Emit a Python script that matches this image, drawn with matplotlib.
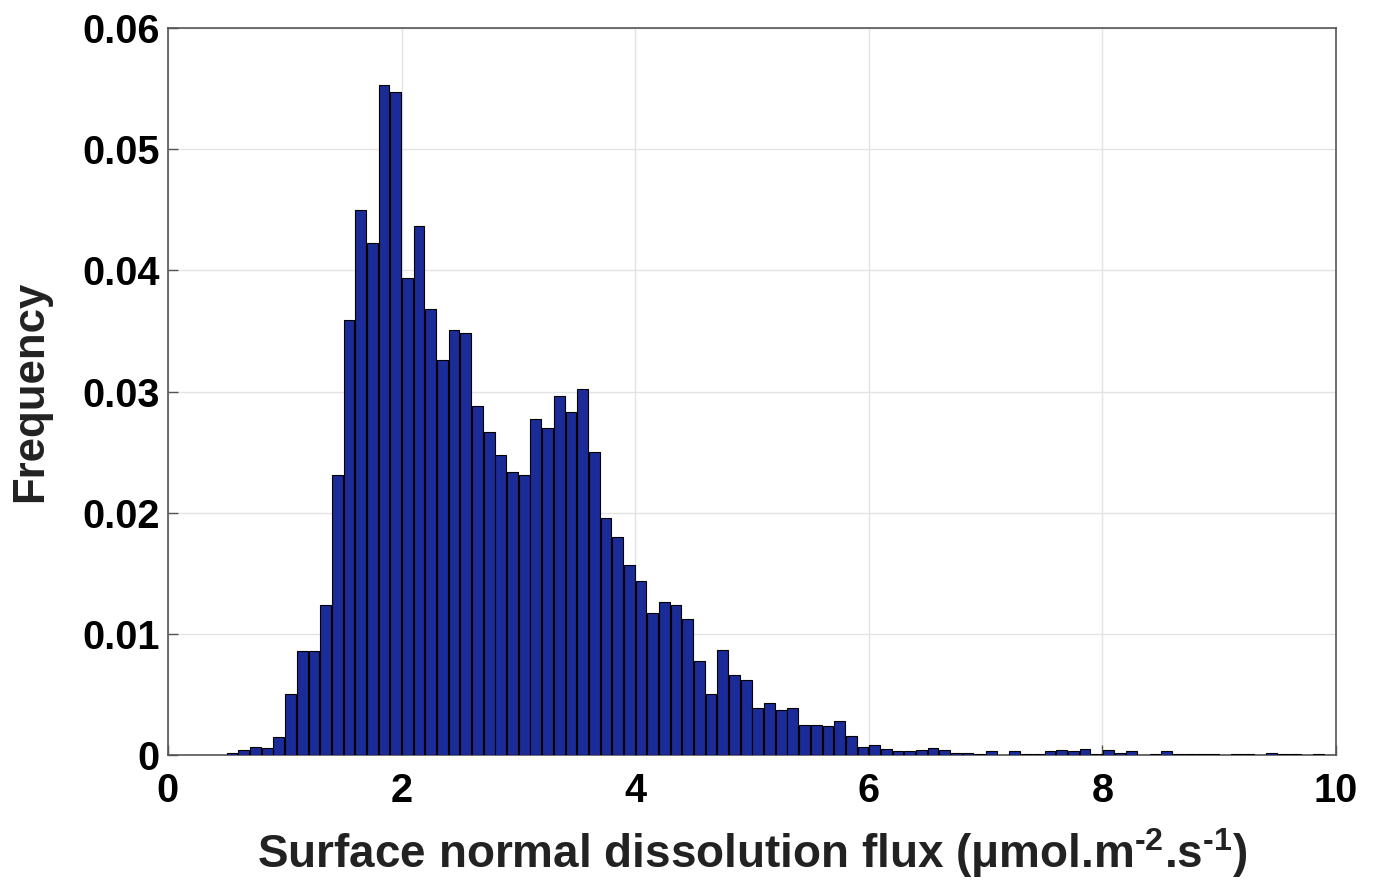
import numpy as np
import matplotlib
matplotlib.use("Agg")
import matplotlib.pyplot as plt

# bin centres (bin width 0.1) and frequencies
bin_width = 0.1
freq = [
    0.0002, 0.0004, 0.0007, 0.0006, 0.0015, 0.0050, 0.0086, 0.0086, 0.0124, 0.0231,
    0.0359, 0.0450, 0.0423, 0.0553, 0.0547, 0.0394, 0.0437, 0.0368, 0.0326, 0.0351,
    0.0348, 0.0288, 0.0267, 0.0248, 0.0234, 0.0231, 0.0277, 0.0270, 0.0296, 0.0283,
    0.0302, 0.0250, 0.0196, 0.0180, 0.0157, 0.0144, 0.0117, 0.0126, 0.0124, 0.0112,
    0.0078, 0.0050, 0.0087, 0.0066, 0.0062, 0.0039, 0.0043, 0.0037, 0.0039, 0.0025,
    0.0025, 0.0024, 0.0028, 0.0016, 0.0007, 0.0008, 0.0005, 0.0003, 0.0003, 0.0004,
    0.0006, 0.0004, 0.0002, 0.0002, 0.0001, 0.0003, 0.00003, 0.0003, 0.0001, 0.0001,
    0.0003, 0.0004, 0.0003, 0.0005, 0.0001, 0.0004, 0.0002, 0.0003, 0.0, 0.0001,
    0.0003, 0.00005, 0.00005, 0.0001, 0.00005, 0.0, 0.0001, 0.0001, 0.0, 0.0002,
    0.0001, 0.00005, 0.0, 0.00005, 0.0,
]
first_centre = 0.55
centres = first_centre + bin_width * np.arange(len(freq))

xticks = [0, 2, 4, 6, 8, 10]
yticks = [0, 0.01, 0.02, 0.03, 0.04, 0.05, 0.06]
ytick_labels = ["0", "0.01", "0.02", "0.03", "0.04", "0.05", "0.06"]

plt.rcParams["font.family"] = ["Liberation Sans", "DejaVu Sans"]
plt.rcParams["mathtext.fontset"] = "custom"
plt.rcParams["mathtext.rm"] = "Liberation Sans:bold"
plt.rcParams["mathtext.it"] = "Liberation Sans:bold"
plt.rcParams["mathtext.bf"] = "Liberation Sans:bold"

fig = plt.figure(figsize=(13.76, 8.82), dpi=100)
ax = fig.add_axes([0.122, 0.144, 0.849, 0.824])

ax.bar(centres, freq, width=bin_width * 0.92, color="#1b2b98",
       edgecolor="black", linewidth=0.8, zorder=3)

ax.set_xlim(0, 10)
ax.set_ylim(0, 0.06)
ax.set_xticks(xticks)
ax.set_yticks(yticks)
ax.set_yticklabels(ytick_labels)
ax.grid(True, color="#e3e3e3", linewidth=1.0, zorder=0)
ax.tick_params(direction="in", length=7, width=1, colors="#555555",
               labelcolor="black", labelsize=28.5)
ax.tick_params(axis="x", pad=12)
ax.tick_params(axis="y", pad=6)
for lab in ax.get_xticklabels() + ax.get_yticklabels():
    lab.set_fontweight("bold")
for sp in ax.spines.values():
    sp.set_color("#555555")
    sp.set_linewidth(1.2)

ax.set_xlabel("Surface normal dissolution flux (\u03bcmol.m$^{\\text{-}2}$.s$^{\\text{-}1}$)",
              fontsize=33, fontweight="bold", color="#222222", labelpad=12)
ax.set_ylabel("Frequency", fontsize=31.5, fontweight="bold",
              color="#222222", labelpad=22)

fig.savefig("out.png", dpi=100)
